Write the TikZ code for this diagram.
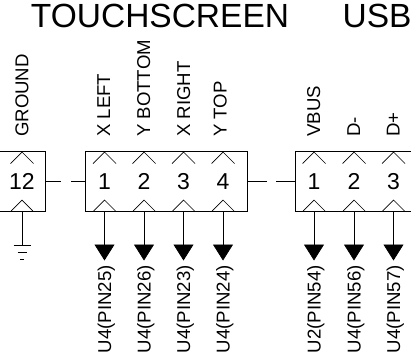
\documentclass[tikz,border=0pt]{standalone}
\usepackage{fontspec}
\setmainfont{Liberation Sans}
\usetikzlibrary{positioning,calc,arrows.meta}

\begin{document}
\begin{tikzpicture}[
    x = 1pt, y = -1pt,
    conbox/.style = {draw, line width=0.7pt, minimum height=59.5pt, inner sep=0pt},
    pinnum/.style = {font=\fontsize{23}{23}\selectfont, inner sep=0pt},
    title/.style = {font=\fontsize{33.5}{34}\selectfont, inner sep=0pt},
    toplabel/.style = {font=\fontsize{18.6}{19}\selectfont, rotate=90, anchor=base west, inner sep=0pt},
    botlabel/.style = {font=\fontsize{18.6}{19}\selectfont, rotate=90, anchor=base east, inner sep=0pt},
    wire/.style = {line width=0.7pt},
    sig/.style = {line width=0.7pt, -{Triangle[width=20pt,length=16pt]}, shorten >=-0.5pt}
  ]
  \clip (0,0) rectangle (411,359);

  \node[title, anchor=base] (touch) at (160,27.5) {TOUCHSCREEN};
  \node[title, anchor=base west] (usb) at (342.5,27.5) {USB};

  % connector bodies, the outer ones run off the page
  \node[conbox, minimum width=65.5pt] (gnd) at (13,181.5) {};
  \node[conbox, minimum width=161.5pt] (touchbox) at (166.25,181.5) {};
  \node[conbox, minimum width=140pt] (usbbox) at (365.5,181.5) {};

  \foreach \name/\xpos/\num/\toptext/\topx/\bottext in {
    a/104.5/1/X LEFT/110/U4(PIN25), b/144/2/Y BOTTOM/150/U4(PIN26),
    c/183.5/3/X RIGHT/190/U4(PIN23), d/223/4/Y TOP/226.7/U4(PIN24),
    e/314/1/VBUS/320/U2(PIN54), f/354/2/D-/360/U4(PIN56), g/393.5/3/D+/399.5/U4(PIN57)} {
    \node[pinnum] (\name) at (\xpos,181.5) {\num};
    \draw[wire] (\xpos-11.5,163.5) -- (\xpos,152) -- (\xpos+11.5,163.5);
    \draw[wire] (\xpos-11,211) -- (\xpos,200) -- (\xpos+11,211);
    \node[toplabel] (\name top) at (\topx,137) {\toptext};
    \node[botlabel] (\name bot) at (\xpos+6.7,265) {\bottext};
    \coordinate (\name end) at (\xpos,260);
    \draw[sig] (\name |- touchbox.south) -- (\name end);
  }

  \node[pinnum] (gndnum) at (22,181.5) {12};
  \node[toplabel] (gndtop) at (28.3,137) {GROUND};
  \draw[wire] (10.5,163.5) -- (22,152) -- (33.5,163.5);
  \draw[wire] (11,211) -- (22,200) -- (33,211);

  % ground symbol
  \coordinate (earth) at (22,245);
  \draw[wire] (gndnum |- gnd.south) -- (earth);
  \draw[wire] ($(earth)+(-8.5,0)$) -- ($(earth)+(8.5,0)$);
  \draw[wire] ($(earth)+(-4.5,7)$) -- ($(earth)+(4.5,7)$);
  \draw[wire] ($(earth)+(-2,14)$) -- ($(earth)+(2,14)$);

  % broken links between the bodies
  \coordinate (linka) at (61,181.5);
  \coordinate (linkb) at (71,181.5);
  \coordinate (linkc) at (267,181.5);
  \coordinate (linkd) at (276,181.5);
  \draw[wire] (gnd.east) -- (linka);
  \draw[wire] (linkb) -- (touchbox.west);
  \draw[wire] (touchbox.east) -- (linkc);
  \draw[wire] (linkd) -- (usbbox.west);
\end{tikzpicture}
\end{document}
